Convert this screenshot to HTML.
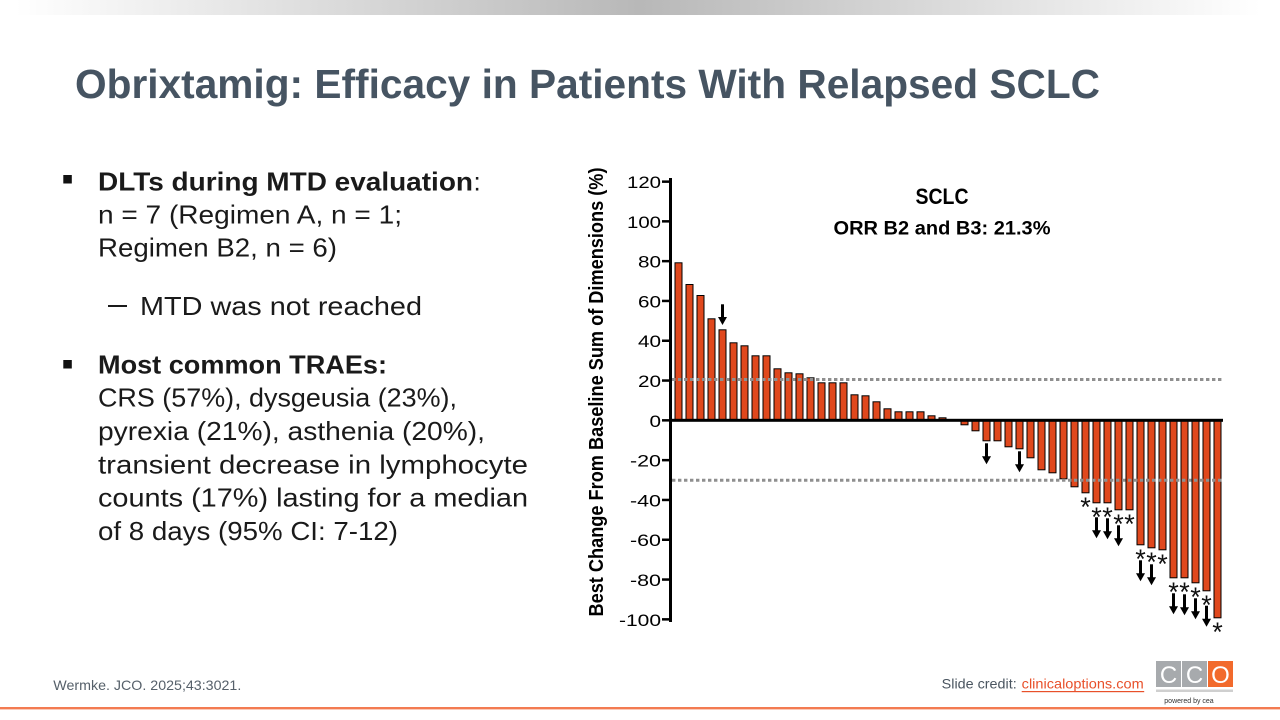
<!DOCTYPE html>
<html>
<head>
<meta charset="utf-8">
<style>
  html, body { margin: 0; padding: 0; background: #ffffff; }
  body { width: 1280px; height: 720px; overflow: hidden; }
  svg { display: block; }
  .t { font-family: "Liberation Sans", Arial, sans-serif; }
</style>
</head>
<body>
<svg width="1280" height="720" viewBox="0 0 1280 720" xmlns="http://www.w3.org/2000/svg">
  <defs>
    <linearGradient id="topg" x1="0" y1="0" x2="1280" y2="0" gradientUnits="userSpaceOnUse">
      <stop offset="0.012" stop-color="#ffffff"/>
      <stop offset="0.5" stop-color="#b8b8b8"/>
      <stop offset="0.985" stop-color="#ffffff"/>
    </linearGradient>
  </defs>
  <rect x="0" y="0" width="1280" height="720" fill="#ffffff"/>
  <rect x="0" y="0" width="1280" height="15" fill="url(#topg)"/>

  <!-- Title -->
  <text class="t" x="75" y="98" font-size="41" font-weight="bold" fill="#465462" textLength="1025" lengthAdjust="spacingAndGlyphs">Obrixtamig: Efficacy in Patients With Relapsed SCLC</text>

  <!-- Left bullets -->
  <rect x="63.3" y="175" width="8.5" height="8.5" fill="#111"/>
  <text class="t" x="98" y="190.7" font-size="26" font-weight="bold" fill="#1a1a1a" textLength="375" lengthAdjust="spacingAndGlyphs">DLTs during MTD evaluation</text>
  <text class="t" x="473.5" y="190.7" font-size="26" fill="#1a1a1a">:</text>
  <text class="t" x="98" y="223.6" font-size="26" fill="#1a1a1a" textLength="304" lengthAdjust="spacingAndGlyphs">n = 7 (Regimen A, n = 1;</text>
  <text class="t" x="98" y="256.7" font-size="26" fill="#1a1a1a" textLength="239" lengthAdjust="spacingAndGlyphs">Regimen B2, n = 6)</text>

  <rect x="108" y="305" width="19" height="2" fill="#1a1a1a"/>
  <text class="t" x="140" y="315" font-size="26" fill="#1a1a1a" textLength="282" lengthAdjust="spacingAndGlyphs">MTD was not reached</text>

  <rect x="63.3" y="360" width="8.5" height="8.5" fill="#111"/>
  <text class="t" x="98" y="373.3" font-size="26" font-weight="bold" fill="#1a1a1a" textLength="289" lengthAdjust="spacingAndGlyphs">Most common TRAEs:</text>
  <text class="t" x="98" y="406.7" font-size="26" fill="#1a1a1a" textLength="359" lengthAdjust="spacingAndGlyphs">CRS (57%), dysgeusia (23%),</text>
  <text class="t" x="98" y="440" font-size="26" fill="#1a1a1a" textLength="387" lengthAdjust="spacingAndGlyphs">pyrexia (21%), asthenia (20%),</text>
  <text class="t" x="98" y="473.3" font-size="26" fill="#1a1a1a" textLength="430" lengthAdjust="spacingAndGlyphs">transient decrease in lymphocyte</text>
  <text class="t" x="98" y="506.7" font-size="26" fill="#1a1a1a" textLength="430" lengthAdjust="spacingAndGlyphs">counts (17%) lasting for a median</text>
  <text class="t" x="98" y="540" font-size="26" fill="#1a1a1a" textLength="300" lengthAdjust="spacingAndGlyphs">of 8 days (95% CI: 7-12)</text>

  <!-- Chart: y-axis label -->
  <text class="t" transform="translate(603,392) rotate(-90)" x="0" y="0" text-anchor="middle" font-size="20" font-weight="bold" fill="#000" textLength="449" lengthAdjust="spacingAndGlyphs">Best Change From Baseline Sum of Dimensions (%)</text>

  <!-- Tick labels -->
  <g class="t" font-size="16.5" fill="#000" text-anchor="end">
    <text x="661" y="188.1" textLength="34" lengthAdjust="spacingAndGlyphs">120</text>
    <text x="661" y="227.8" textLength="34" lengthAdjust="spacingAndGlyphs">100</text>
    <text x="661" y="267.6" textLength="23" lengthAdjust="spacingAndGlyphs">80</text>
    <text x="661" y="307.4" textLength="23" lengthAdjust="spacingAndGlyphs">60</text>
    <text x="661" y="347.2" textLength="23" lengthAdjust="spacingAndGlyphs">40</text>
    <text x="661" y="387" textLength="23" lengthAdjust="spacingAndGlyphs">20</text>
    <text x="661" y="426.8" textLength="11.5" lengthAdjust="spacingAndGlyphs">0</text>
    <text x="661" y="466.6" textLength="31" lengthAdjust="spacingAndGlyphs">-20</text>
    <text x="661" y="506.4" textLength="31" lengthAdjust="spacingAndGlyphs">-40</text>
    <text x="661" y="546.2" textLength="31" lengthAdjust="spacingAndGlyphs">-60</text>
    <text x="661" y="586" textLength="31" lengthAdjust="spacingAndGlyphs">-80</text>
    <text x="661" y="625.8" textLength="42" lengthAdjust="spacingAndGlyphs">-100</text>
  </g>

  <!-- Chart titles -->
  <text class="t" x="942" y="204" text-anchor="middle" font-size="22" font-weight="bold" fill="#000" textLength="53" lengthAdjust="spacingAndGlyphs">SCLC</text>
  <text class="t" x="942" y="234.3" text-anchor="middle" font-size="19.5" font-weight="bold" fill="#000" textLength="217" lengthAdjust="spacingAndGlyphs">ORR B2 and B3: 21.3%</text>

  <!-- Bars -->
  <g fill="#E0481D" stroke="#000" stroke-width="1">
    <rect x="675" y="262.8" width="7" height="157.2"/>
    <rect x="686" y="284.5" width="7" height="135.5"/>
    <rect x="697" y="295.5" width="7" height="124.5"/>
    <rect x="708" y="318.8" width="7" height="101.2"/>
    <rect x="719" y="329.8" width="7" height="90.2"/>
    <rect x="730" y="342.8" width="7" height="77.2"/>
    <rect x="741" y="345.8" width="7" height="74.2"/>
    <rect x="752" y="355.8" width="7" height="64.2"/>
    <rect x="763" y="355.8" width="7" height="64.2"/>
    <rect x="774" y="368.8" width="7" height="51.2"/>
    <rect x="785" y="372.8" width="7" height="47.2"/>
    <rect x="796" y="373.8" width="7" height="46.2"/>
    <rect x="807" y="377.8" width="7" height="42.2"/>
    <rect x="818" y="382.8" width="7" height="37.2"/>
    <rect x="829" y="382.8" width="7" height="37.2"/>
    <rect x="840" y="382.8" width="7" height="37.2"/>
    <rect x="851" y="394.8" width="7" height="25.2"/>
    <rect x="862" y="395.8" width="7" height="24.2"/>
    <rect x="873" y="401.8" width="7" height="18.2"/>
    <rect x="884" y="408.8" width="7" height="11.2"/>
    <rect x="895" y="411.8" width="7" height="8.2"/>
    <rect x="906" y="411.8" width="7" height="8.2"/>
    <rect x="917" y="411.8" width="7" height="8.2"/>
    <rect x="928" y="415.8" width="7" height="4.2"/>
    <rect x="939" y="417.8" width="7" height="2.2"/>

    <rect x="961" y="420.5" width="7" height="4.3"/>
    <rect x="972" y="420.5" width="7" height="10.3"/>
    <rect x="983" y="420.5" width="7" height="20.3"/>
    <rect x="994" y="420.5" width="7" height="20.3"/>
    <rect x="1005" y="420.5" width="7" height="26.3"/>
    <rect x="1016" y="420.5" width="7" height="28.3"/>
    <rect x="1027" y="420.5" width="7" height="37.3"/>
    <rect x="1038" y="420.5" width="7" height="49.3"/>
    <rect x="1049" y="420.5" width="7" height="52.3"/>
    <rect x="1060" y="420.5" width="7" height="58.3"/>
    <rect x="1071" y="420.5" width="7" height="66.3"/>
    <rect x="1082" y="420.5" width="7" height="72.3"/>
    <rect x="1093" y="420.5" width="7" height="82.3"/>
    <rect x="1104" y="420.5" width="7" height="82.3"/>
    <rect x="1115" y="420.5" width="7" height="89.3"/>
    <rect x="1126" y="420.5" width="7" height="89.3"/>
    <rect x="1137" y="420.5" width="7" height="124.3"/>
    <rect x="1148" y="420.5" width="7" height="127.3"/>
    <rect x="1159" y="420.5" width="7" height="129.3"/>
    <rect x="1170" y="420.5" width="7" height="157.3"/>
    <rect x="1181" y="420.5" width="7" height="157.3"/>
    <rect x="1192" y="420.5" width="7" height="162.3"/>
    <rect x="1203" y="420.5" width="7" height="170.3"/>
    <rect x="1214" y="420.5" width="7" height="197.3"/>
  </g>

  <!-- Reference dotted lines -->
  <g stroke="#8f8f8f" stroke-width="3" stroke-dasharray="3.4 2.6">
    <line x1="672" y1="379.5" x2="1222" y2="379.5"/>
    <line x1="672" y1="480.3" x2="1222" y2="480.3"/>
  </g>

  <!-- Axes -->
  <rect x="669" y="178" width="3" height="444" fill="#000"/>
  <rect x="669" y="418.8" width="554" height="3" fill="#000"/>
  <g fill="#000">
    <rect x="662" y="180.4" width="8" height="2.5"/>
    <rect x="662" y="220.1" width="8" height="2.5"/>
    <rect x="662" y="259.9" width="8" height="2.5"/>
    <rect x="662" y="299.7" width="8" height="2.5"/>
    <rect x="662" y="339.5" width="8" height="2.5"/>
    <rect x="662" y="379.3" width="8" height="2.5"/>
    <rect x="662" y="419.1" width="8" height="2.5"/>
    <rect x="662" y="458.9" width="8" height="2.5"/>
    <rect x="662" y="498.7" width="8" height="2.5"/>
    <rect x="662" y="538.5" width="8" height="2.5"/>
    <rect x="662" y="578.3" width="8" height="2.5"/>
    <rect x="662" y="618.1" width="8" height="2.5"/>
  </g>

  <!-- Arrows -->
  <g fill="#000">
    <rect x="721" y="304.3" width="3" height="13.7"/><polygon points="718,317 727,317 722.5,325"/>
    <rect x="985" y="443.3" width="3" height="14"/><polygon points="982,456.3 991,456.3 986.5,464.3"/>
    <rect x="1018" y="451.3" width="3" height="14"/><polygon points="1015,464.3 1024,464.3 1019.5,472.3"/>
    <rect x="1095" y="517.3" width="3" height="14"/><polygon points="1092,530.3 1101,530.3 1096.5,538.3"/>
    <rect x="1106" y="518.3" width="3" height="14"/><polygon points="1103,531.3 1112,531.3 1107.5,539.3"/>
    <rect x="1117" y="525.3" width="3" height="14"/><polygon points="1114,538.3 1123,538.3 1118.5,546.3"/>
    <rect x="1139" y="560.3" width="3" height="14"/><polygon points="1136,573.3 1145,573.3 1140.5,581.3"/>
    <rect x="1150" y="564.3" width="3" height="14"/><polygon points="1147,577.3 1156,577.3 1151.5,585.3"/>
    <rect x="1172" y="593.3" width="3" height="14"/><polygon points="1169,606.3 1178,606.3 1173.5,614.3"/>
    <rect x="1183" y="594.3" width="3" height="14"/><polygon points="1180,607.3 1189,607.3 1184.5,615.3"/>
    <rect x="1194" y="598.3" width="3" height="14"/><polygon points="1191,611.3 1200,611.3 1195.5,619.3"/>
    <rect x="1205" y="605.7" width="3" height="14"/><polygon points="1202,618.7 1211,618.7 1206.5,626.7"/>
  </g>

  <!-- Stars -->
  <g class="t" font-size="27" fill="#111" text-anchor="middle">
    <text x="1085.5" y="516">*</text>
    <text x="1096.5" y="526">*</text>
    <text x="1107.5" y="526">*</text>
    <text x="1118.5" y="533">*</text>
    <text x="1129.5" y="533">*</text>
    <text x="1140.5" y="568">*</text>
    <text x="1151.5" y="571">*</text>
    <text x="1162.5" y="573">*</text>
    <text x="1173.5" y="601">*</text>
    <text x="1184.5" y="601">*</text>
    <text x="1195.5" y="606">*</text>
    <text x="1206.5" y="614">*</text>
    <text x="1217.5" y="641">*</text>
  </g>

  <!-- Footer -->
  <text class="t" x="53.3" y="690" font-size="14" fill="#56606a" textLength="188" lengthAdjust="spacingAndGlyphs">Wermke. JCO. 2025;43:3021.</text>
  <text class="t" x="941.7" y="688.3" font-size="14" fill="#4a5560" textLength="75" lengthAdjust="spacingAndGlyphs">Slide credit:</text>
  <text class="t" x="1021.7" y="688.3" font-size="14" fill="#E8502A" textLength="122" lengthAdjust="spacingAndGlyphs">clinicaloptions.com</text>
  <rect x="1021.7" y="691" width="122.5" height="1.2" fill="#E8502A"/>

  <!-- CCO logo -->
  <rect x="1156" y="661" width="25" height="26" fill="#a7aaad"/>
  <rect x="1182" y="661" width="25" height="26" fill="#a7aaad"/>
  <rect x="1208" y="661" width="25" height="26" fill="#F26A2C"/>
  <g class="t" font-size="24" fill="#ffffff" text-anchor="middle">
    <text x="1168.5" y="683">C</text>
    <text x="1194.5" y="683">C</text>
    <text x="1220.5" y="683">O</text>
  </g>
  <rect x="1156" y="689.5" width="77" height="2.5" fill="#cfcfcf"/>
  <text class="t" x="1189" y="703" font-size="7" fill="#333" text-anchor="middle">powered by cea</text>

  <!-- Bottom orange line -->
  <rect x="0" y="707" width="1280" height="2.4" fill="#F37B51"/>
</svg>
</body>
</html>
